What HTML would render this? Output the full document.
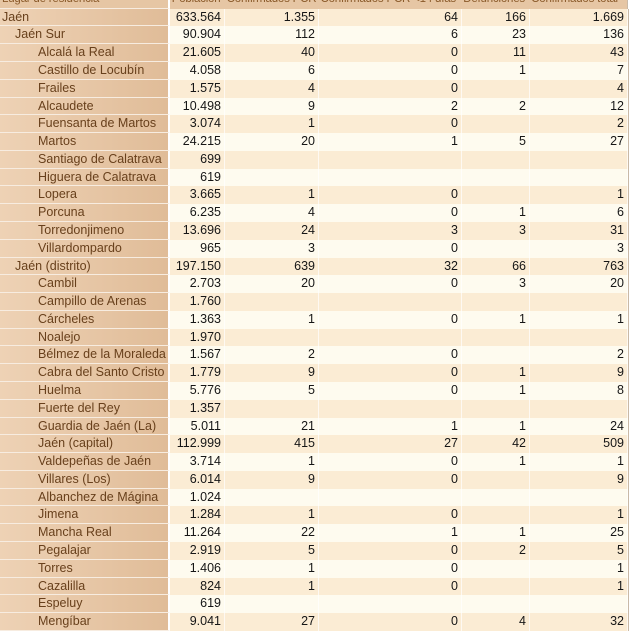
<!DOCTYPE html>
<html>
<head>
<meta charset="utf-8">
<style>
html,body{margin:0;padding:0;background:#fff;}
body{width:630px;height:621px;overflow:hidden;position:relative;font-family:"Liberation Sans",Arial,sans-serif;font-size:12.5px;}
.t{position:absolute;left:0;top:-9.2px;width:630px;}
.r{display:flex;height:17.79px;line-height:17.79px;box-sizing:border-box;}
.r>div{box-sizing:border-box;height:17.79px;white-space:nowrap;overflow:hidden;}
.c0{width:170px;border-right:2px solid #fff;border-bottom:1px solid #f7ece0;background:linear-gradient(to right,#eed2b5,#e0bc98);color:#68401c;padding-left:2px;}
.c1{width:55px;}
.c2{width:94px;}
.c3{width:143px;}
.c4{width:68px;}
.c5{width:98px;}
.n{text-align:right;padding-right:3px;color:#161616;border-right:1px solid rgba(255,255,255,0.7);}
.a .n{background:#fbecd4;}
.b .n{background:#fefbef;}
.end{width:2px;background:#fff;border-left:1px solid #c9b9a6;}
.h{background:#e6c6a4;}
.h>div{background:transparent;color:#8a5a2a;text-align:left;padding-left:2px;overflow:visible !important;font-size:11.5px;letter-spacing:-0.2px;}
.h .c0{background:#e6c6a4;}
.h .end{background:#fff;}
.i1{padding-left:15px !important;}
.i2{padding-left:38px !important;}
</style>
</head>
<body>
<div class="t">
<div class="r h"><div class="c0">Lugar de residencia</div><div class="c1">Población</div><div class="c2">Confirmados PCR</div><div class="c3">Confirmados PCR &lt;14 días</div><div class="c4">Defunciones</div><div class="c5">Confirmados total</div><div class="end"></div></div>
<div class="r a"><div class="c0">Jaén</div><div class="c1 n">633.564</div><div class="c2 n">1.355</div><div class="c3 n">64</div><div class="c4 n">166</div><div class="c5 n">1.669</div><div class="end"></div></div>
<div class="r b"><div class="c0 i1">Jaén Sur</div><div class="c1 n">90.904</div><div class="c2 n">112</div><div class="c3 n">6</div><div class="c4 n">23</div><div class="c5 n">136</div><div class="end"></div></div>
<div class="r a"><div class="c0 i2">Alcalá la Real</div><div class="c1 n">21.605</div><div class="c2 n">40</div><div class="c3 n">0</div><div class="c4 n">11</div><div class="c5 n">43</div><div class="end"></div></div>
<div class="r b"><div class="c0 i2">Castillo de Locubín</div><div class="c1 n">4.058</div><div class="c2 n">6</div><div class="c3 n">0</div><div class="c4 n">1</div><div class="c5 n">7</div><div class="end"></div></div>
<div class="r a"><div class="c0 i2">Frailes</div><div class="c1 n">1.575</div><div class="c2 n">4</div><div class="c3 n">0</div><div class="c4 n"></div><div class="c5 n">4</div><div class="end"></div></div>
<div class="r b"><div class="c0 i2">Alcaudete</div><div class="c1 n">10.498</div><div class="c2 n">9</div><div class="c3 n">2</div><div class="c4 n">2</div><div class="c5 n">12</div><div class="end"></div></div>
<div class="r a"><div class="c0 i2">Fuensanta de Martos</div><div class="c1 n">3.074</div><div class="c2 n">1</div><div class="c3 n">0</div><div class="c4 n"></div><div class="c5 n">2</div><div class="end"></div></div>
<div class="r b"><div class="c0 i2">Martos</div><div class="c1 n">24.215</div><div class="c2 n">20</div><div class="c3 n">1</div><div class="c4 n">5</div><div class="c5 n">27</div><div class="end"></div></div>
<div class="r a"><div class="c0 i2">Santiago de Calatrava</div><div class="c1 n">699</div><div class="c2 n"></div><div class="c3 n"></div><div class="c4 n"></div><div class="c5 n"></div><div class="end"></div></div>
<div class="r b"><div class="c0 i2">Higuera de Calatrava</div><div class="c1 n">619</div><div class="c2 n"></div><div class="c3 n"></div><div class="c4 n"></div><div class="c5 n"></div><div class="end"></div></div>
<div class="r a"><div class="c0 i2">Lopera</div><div class="c1 n">3.665</div><div class="c2 n">1</div><div class="c3 n">0</div><div class="c4 n"></div><div class="c5 n">1</div><div class="end"></div></div>
<div class="r b"><div class="c0 i2">Porcuna</div><div class="c1 n">6.235</div><div class="c2 n">4</div><div class="c3 n">0</div><div class="c4 n">1</div><div class="c5 n">6</div><div class="end"></div></div>
<div class="r a"><div class="c0 i2">Torredonjimeno</div><div class="c1 n">13.696</div><div class="c2 n">24</div><div class="c3 n">3</div><div class="c4 n">3</div><div class="c5 n">31</div><div class="end"></div></div>
<div class="r b"><div class="c0 i2">Villardompardo</div><div class="c1 n">965</div><div class="c2 n">3</div><div class="c3 n">0</div><div class="c4 n"></div><div class="c5 n">3</div><div class="end"></div></div>
<div class="r a"><div class="c0 i1">Jaén (distrito)</div><div class="c1 n">197.150</div><div class="c2 n">639</div><div class="c3 n">32</div><div class="c4 n">66</div><div class="c5 n">763</div><div class="end"></div></div>
<div class="r b"><div class="c0 i2">Cambil</div><div class="c1 n">2.703</div><div class="c2 n">20</div><div class="c3 n">0</div><div class="c4 n">3</div><div class="c5 n">20</div><div class="end"></div></div>
<div class="r a"><div class="c0 i2">Campillo de Arenas</div><div class="c1 n">1.760</div><div class="c2 n"></div><div class="c3 n"></div><div class="c4 n"></div><div class="c5 n"></div><div class="end"></div></div>
<div class="r b"><div class="c0 i2">Cárcheles</div><div class="c1 n">1.363</div><div class="c2 n">1</div><div class="c3 n">0</div><div class="c4 n">1</div><div class="c5 n">1</div><div class="end"></div></div>
<div class="r a"><div class="c0 i2">Noalejo</div><div class="c1 n">1.970</div><div class="c2 n"></div><div class="c3 n"></div><div class="c4 n"></div><div class="c5 n"></div><div class="end"></div></div>
<div class="r b"><div class="c0 i2">Bélmez de la Moraleda</div><div class="c1 n">1.567</div><div class="c2 n">2</div><div class="c3 n">0</div><div class="c4 n"></div><div class="c5 n">2</div><div class="end"></div></div>
<div class="r a"><div class="c0 i2">Cabra del Santo Cristo</div><div class="c1 n">1.779</div><div class="c2 n">9</div><div class="c3 n">0</div><div class="c4 n">1</div><div class="c5 n">9</div><div class="end"></div></div>
<div class="r b"><div class="c0 i2">Huelma</div><div class="c1 n">5.776</div><div class="c2 n">5</div><div class="c3 n">0</div><div class="c4 n">1</div><div class="c5 n">8</div><div class="end"></div></div>
<div class="r a"><div class="c0 i2">Fuerte del Rey</div><div class="c1 n">1.357</div><div class="c2 n"></div><div class="c3 n"></div><div class="c4 n"></div><div class="c5 n"></div><div class="end"></div></div>
<div class="r b"><div class="c0 i2">Guardia de Jaén (La)</div><div class="c1 n">5.011</div><div class="c2 n">21</div><div class="c3 n">1</div><div class="c4 n">1</div><div class="c5 n">24</div><div class="end"></div></div>
<div class="r a"><div class="c0 i2">Jaén (capital)</div><div class="c1 n">112.999</div><div class="c2 n">415</div><div class="c3 n">27</div><div class="c4 n">42</div><div class="c5 n">509</div><div class="end"></div></div>
<div class="r b"><div class="c0 i2">Valdepeñas de Jaén</div><div class="c1 n">3.714</div><div class="c2 n">1</div><div class="c3 n">0</div><div class="c4 n">1</div><div class="c5 n">1</div><div class="end"></div></div>
<div class="r a"><div class="c0 i2">Villares (Los)</div><div class="c1 n">6.014</div><div class="c2 n">9</div><div class="c3 n">0</div><div class="c4 n"></div><div class="c5 n">9</div><div class="end"></div></div>
<div class="r b"><div class="c0 i2">Albanchez de Mágina</div><div class="c1 n">1.024</div><div class="c2 n"></div><div class="c3 n"></div><div class="c4 n"></div><div class="c5 n"></div><div class="end"></div></div>
<div class="r a"><div class="c0 i2">Jimena</div><div class="c1 n">1.284</div><div class="c2 n">1</div><div class="c3 n">0</div><div class="c4 n"></div><div class="c5 n">1</div><div class="end"></div></div>
<div class="r b"><div class="c0 i2">Mancha Real</div><div class="c1 n">11.264</div><div class="c2 n">22</div><div class="c3 n">1</div><div class="c4 n">1</div><div class="c5 n">25</div><div class="end"></div></div>
<div class="r a"><div class="c0 i2">Pegalajar</div><div class="c1 n">2.919</div><div class="c2 n">5</div><div class="c3 n">0</div><div class="c4 n">2</div><div class="c5 n">5</div><div class="end"></div></div>
<div class="r b"><div class="c0 i2">Torres</div><div class="c1 n">1.406</div><div class="c2 n">1</div><div class="c3 n">0</div><div class="c4 n"></div><div class="c5 n">1</div><div class="end"></div></div>
<div class="r a"><div class="c0 i2">Cazalilla</div><div class="c1 n">824</div><div class="c2 n">1</div><div class="c3 n">0</div><div class="c4 n"></div><div class="c5 n">1</div><div class="end"></div></div>
<div class="r b"><div class="c0 i2">Espeluy</div><div class="c1 n">619</div><div class="c2 n"></div><div class="c3 n"></div><div class="c4 n"></div><div class="c5 n"></div><div class="end"></div></div>
<div class="r a"><div class="c0 i2">Mengíbar</div><div class="c1 n">9.041</div><div class="c2 n">27</div><div class="c3 n">0</div><div class="c4 n">4</div><div class="c5 n">32</div><div class="end"></div></div>
</div>
</body>
</html>
